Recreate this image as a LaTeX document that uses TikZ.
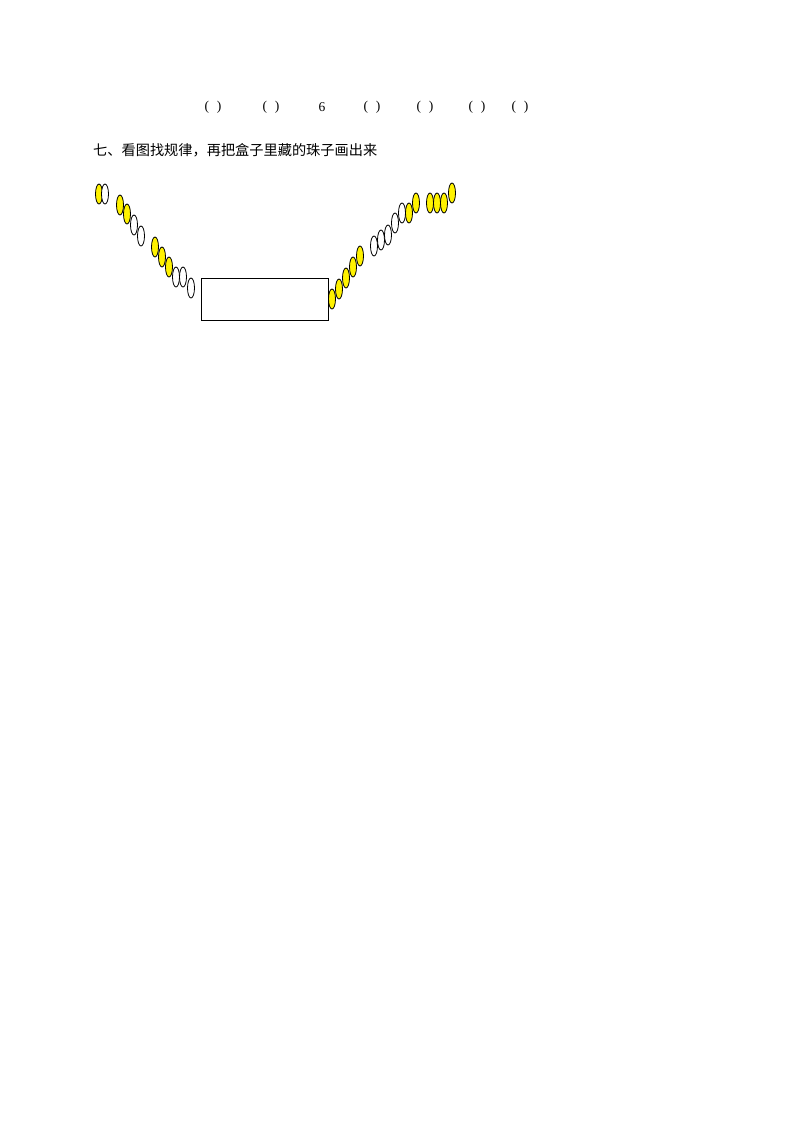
\documentclass[tikz,border=0pt]{standalone}
\usepackage{fontspec}
\usetikzlibrary{shapes.geometric}
\setmainfont{Liberation Serif}
\newfontfamily\cjk{Noto Sans CJK SC}
\begin{document}
\begin{tikzpicture}[x=1pt,y=-1pt,
 by/.style={draw=black,line width=0.8pt,fill=yellow,ellipse,inner sep=0pt,minimum width=7pt,minimum height=20pt},
 bw/.style={by,fill=white},
 txt/.style={font=\fontsize{13.5pt}{13.5pt}\selectfont,inner sep=0pt}]
\useasboundingbox (0,0) rectangle (800,1132);
\foreach \x/\t [count=\i] in {213/(\hspace{8pt}),271/(\hspace{8pt}),322/6,372/(\hspace{8pt}),425/(\hspace{8pt}),477/(\hspace{8pt}),520/(\hspace{8pt})}
  \node[txt] (p\i) at (\x,107) {\t};
\node[anchor=west,inner sep=0pt,font=\cjk\fontsize{14.2pt}{14.2pt}\selectfont] (h) at (93,150) {七、看图找规律，再把盒子里藏的珠子画出来};
\foreach \x/\y/\s [count=\i] in {99/194/by,105/194/bw,120/205/by,127/214/by,134/225/bw,141/236/bw,155/247/by,162/257/by,169/267/by,176/277/bw,183/277/bw,191/288/bw,
 332/299/by,339/289/by,346/278/by,353/267/by,360/256/by,374/246/bw,381/240/bw,388/235/bw,395/223/bw,402/213/bw,409/213/by,416/203/by,430/203/by,437/203/by,444/203/by,452/193/by}
  \node[\s] (b\i) at (\x,\y) {};
\node[draw,line width=0.8pt,minimum width=127pt,minimum height=42pt,inner sep=0pt] (box) at (264.5,299) {};
\end{tikzpicture}
\end{document}
